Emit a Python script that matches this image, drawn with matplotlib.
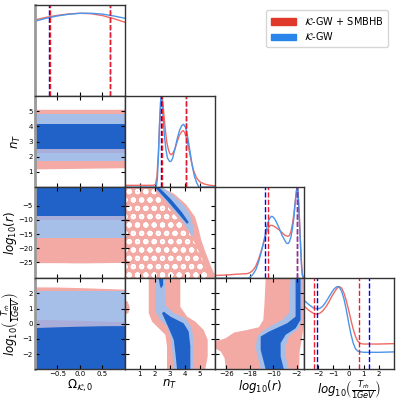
import numpy as np
import matplotlib.pyplot as plt
from matplotlib.patches import Patch

# ---- 1D marginals (peak normalised to 1) ----
omega_x = [-1.0, -0.75, -0.5, -0.25, 0.0, 0.25, 0.5, 0.75, 1.0]
omega_red = [0.920, 0.951, 0.975, 0.992, 1.0, 0.995, 0.972, 0.936, 0.892]
omega_blue = [0.904, 0.940, 0.968, 0.988, 1.0, 1.0, 0.990, 0.968, 0.940]

nT_red_x = [0.0, 1.0, 1.9, 2.05, 2.15, 2.25, 2.33, 2.4, 2.47, 2.53, 2.6, 2.7, 2.8, 2.9,
            3.0, 3.1, 3.2, 3.35, 3.5, 3.65, 3.8, 3.9, 4.0, 4.15, 4.3, 4.45, 4.6, 4.8,
            5.0, 5.3, 5.7, 6.0]
nT_red_y = [0.02, 0.02, 0.02, 0.03, 0.12, 0.4, 0.7, 0.9, 1.0, 0.95, 0.82, 0.64, 0.5, 0.42,
            0.37, 0.355, 0.37, 0.42, 0.5, 0.57, 0.61, 0.62, 0.6, 0.52, 0.4, 0.28, 0.18, 0.1,
            0.06, 0.035, 0.02, 0.015]
nT_blue_x = [0.0, 2.1, 2.17, 2.25, 2.32, 2.38, 2.43, 2.5, 2.57, 2.65, 2.75, 2.85, 3.0,
             3.1, 3.2, 3.35, 3.5, 3.65, 3.8, 3.93, 4.05, 4.2, 4.35, 4.5, 4.65, 4.8, 4.95, 6.0]
nT_blue_y = [0.0, 0.0, 0.08, 0.35, 0.7, 0.92, 1.0, 0.93, 0.75, 0.56, 0.41, 0.32, 0.28,
             0.285, 0.32, 0.42, 0.53, 0.62, 0.675, 0.69, 0.66, 0.55, 0.4, 0.24, 0.12, 0.05, 0.0, 0.0]

logr_red_x = [-30.0, -26.0, -22.0, -19.0, -18.0, -17.0, -16.0, -15.0, -14.0, -13.0, -12.5,
              -12.0, -11.5, -11.0, -10.5, -10.0, -9.0, -8.0, -7.0, -6.0, -5.0, -4.5, -4.0,
              -3.5, -3.0, -2.5, -2.1, -1.85, -1.6, -1.3, -1.0, -0.7, -0.4, -0.1, 0.3]
logr_red_y = [0.03, 0.035, 0.045, 0.05, 0.06, 0.085, 0.13, 0.21, 0.31, 0.42, 0.48,
              0.53, 0.56, 0.58, 0.58, 0.575, 0.555, 0.53, 0.5, 0.47, 0.46, 0.47, 0.51,
              0.59, 0.7, 0.85, 0.96, 1.0, 0.95, 0.8, 0.6, 0.38, 0.18, 0.05, 0.0]
logr_blue_x = [-30.0, -18.5, -18.0, -17.0, -16.0, -15.0, -14.0, -13.0, -12.5, -12.0, -11.5,
               -11.0, -10.5, -10.0, -9.5, -9.0, -8.0, -7.0, -6.0, -5.5, -5.0, -4.5, -4.0,
               -3.5, -3.0, -2.5, -2.1, -1.8, -1.55, -1.3, -1.0, -0.7, -0.4, -0.1, 0.3]
logr_blue_y = [0.0, 0.0, 0.01, 0.04, 0.09, 0.18, 0.3, 0.44, 0.52, 0.59, 0.64,
               0.67, 0.68, 0.67, 0.65, 0.62, 0.55, 0.47, 0.41, 0.385, 0.38, 0.4, 0.45,
               0.54, 0.66, 0.84, 0.96, 1.0, 0.94, 0.78, 0.55, 0.33, 0.14, 0.03, 0.0]

trh_red_x = [-2.9, -2.6, -2.3, -2.1, -1.9, -1.7, -1.5, -1.3, -1.1, -0.9, -0.75, -0.61,
             -0.45, -0.3, -0.15, 0.0, 0.15, 0.3, 0.45, 0.6, 0.8, 1.0, 2.0, 3.0]
trh_red_y = [0.76, 0.71, 0.675, 0.665, 0.675, 0.705, 0.75, 0.81, 0.88, 0.94, 0.98, 1.0,
             0.98, 0.92, 0.83, 0.72, 0.6, 0.49, 0.4, 0.34, 0.31, 0.305, 0.305, 0.31]
trh_blue_x = [-2.9, -2.6, -2.3, -2.1, -1.9, -1.7, -1.5, -1.3, -1.1, -0.95, -0.82, -0.72,
              -0.6, -0.45, -0.3, -0.15, 0.0, 0.15, 0.3, 0.45, 0.6, 0.8, 1.0, 2.0, 3.0]
trh_blue_y = [0.83, 0.78, 0.74, 0.73, 0.735, 0.76, 0.81, 0.87, 0.93, 0.97, 0.99, 1.0,
              0.99, 0.94, 0.85, 0.72, 0.57, 0.43, 0.32, 0.25, 0.22, 0.21, 0.205, 0.205, 0.21]

# 95% limits (dashed lines)
omega_lim_red = [-0.67, 0.66]
omega_lim_blue = [-0.69, 0.66]
nT_lim_red = [2.51, 4.07]
nT_lim_blue = [2.43, 4.06]
logr_lim_red = [-11.95, -2.0]
logr_lim_blue = [-12.9, -1.95]
trh_lim_red = [-2.25, 0.72]
trh_lim_blue = [-2.07, 1.35]

# ---- 2D contours: Omega column is flat, so bands (low, high) ----
band_x = [-1.0, -0.5, 0.0, 0.5, 1.0]
nT_red2 = ([1.20, 1.22, 1.24, 1.26, 1.28], [5.13, 5.13, 5.13, 5.13, 5.13])
nT_red1 = ([2.27, 2.27, 2.27, 2.27, 2.27], [4.05, 4.05, 4.05, 4.05, 4.05])
nT_blue2 = ([1.74, 1.74, 1.74, 1.74, 1.74], [4.80, 4.80, 4.80, 4.80, 4.80])
nT_blue1 = ([2.51, 2.51, 2.51, 2.51, 2.51], [4.13, 4.13, 4.13, 4.13, 4.13])

logr_red2 = ([-25.1, -25.1, -25.2, -25.1, -25.0], [1.6] * 5)
logr_red1 = ([-9.9, -9.9, -9.9, -9.9, -9.9], [1.6] * 5)
logr_blue2 = ([-16.4, -16.4, -16.4, -16.4, -16.4], [1.6] * 5)
logr_blue1 = ([-8.46, -8.46, -8.46, -8.46, -8.46], [1.6] * 5)

trh_red2 = ([-3.0] * 5, [2.43, 2.42, 2.38, 2.33, 2.28])
trh_red1 = ([-3.0] * 5, [0.30, 0.26, 0.22, 0.18, 0.14])
trh_blue2 = ([-3.0] * 5, [2.15, 2.15, 2.15, 2.15, 2.15])
trh_blue1 = ([-3.0] * 5, [-0.25, -0.2, -0.16, -0.13, -0.12])

# n_T - log10(r) contours (x = n_T, y = log10 r)
nr_red = [(0.0, 1.6), (2.4, 1.6), (3.3, -0.8), (4.1, -4.5), (4.7, -9.0), (4.95, -13.5),
          (5.1, -17.0), (5.4, -21.5), (5.75, -26.3), (6.0, -29.3), (6.0, -30.6), (0.0, -30.6)]
nr_speckle = [(0.0, 1.6), (1.85, 1.6), (2.4, -2.5), (3.1, -6.8), (3.8, -11.0), (4.35, -15.0),
              (4.8, -19.5), (5.15, -23.5), (5.45, -27.5), (5.6, -30.6), (0.0, -30.6)]
nr_blue2 = [(1.94, 1.6), (2.6, -2.5), (3.27, -6.7), (3.82, -10.2), (4.27, -13.8), (4.49, -16.0),
            (4.6, -14.5), (4.56, -12.0), (4.35, -8.0), (3.9, -4.5), (3.2, -1.2), (2.5, 1.6)]
nr_blue1 = [(2.0, 1.6), (2.82, -3.1), (3.6, -7.9), (4.16, -11.4), (4.27, -10.8),
            (3.82, -7.3), (3.05, -2.5), (2.27, 1.6)]

# n_T - T_rh contours (x = n_T, y = log10 T_rh)
nt_red = [(1.60, 3.0), (1.60, 0.69), (1.82, 0.14), (2.27, -0.3), (2.71, -0.73), (2.82, -1.5),
          (2.82, -3.0), (5.38, -3.0), (5.54, -2.15), (5.54, -1.06), (5.27, -0.41), (4.71, 0.14),
          (4.16, 0.47), (3.71, 1.12), (3.71, 3.0)]
nt_red_blob = [(0.0, 1.55), (0.2, 1.45), (0.32, 1.1), (0.25, 0.72), (0.0, 0.58)]
nt_blue2 = [(2.05, 3.0), (2.05, 0.8), (2.38, 0.25), (2.82, -0.19), (3.05, -0.84), (3.16, -1.72),
            (3.27, -3.0), (4.6, -3.0), (4.6, -1.28), (4.49, -0.3), (4.05, 0.36), (3.27, 0.69),
            (2.71, 1.23), (2.71, 3.0)]
nt_blue1 = [(2.49, 0.69), (2.94, -0.3), (3.27, -1.06), (3.38, -1.94), (3.49, -3.0), (4.38, -3.0),
            (4.38, -1.5), (4.27, -0.52), (3.93, 0.03), (3.05, 0.47), (2.6, 0.8)]
nt_blue1_tip = [(2.27, 3.0), (2.34, 2.54), (2.42, 2.33), (2.56, 2.54), (2.56, 3.0)]

# log10(r) - T_rh contours (x = log10 r, y = log10 T_rh)
rt_red = [(-12.6, 3.0), (-13.0, 1.34), (-13.4, 0.25), (-14.9, -0.23), (-18.9, -0.41),
          (-23.4, -0.58), (-26.2, -0.95), (-28.5, -1.1), (-30.0, -1.1), (-30.0, -1.6),
          (-27.9, -1.83), (-26.6, -2.26), (-26.2, -3.0), (-1.2, -3.0), (-1.0, -1.8),
          (-0.2, -0.9), (0.3, -0.2), (0.3, 3.0)]
rt_blue2 = [(-4.13, 3.0), (-4.7, 0.69), (-6.96, 0.25), (-13.2, -0.41), (-15.5, -0.84),
            (-16.0, -1.61), (-14.3, -3.0), (-4.7, -3.0), (-5.8, -2.15), (-5.8, -1.5),
            (-4.7, -0.84), (-1.3, -0.3), (-0.16, 0.25), (-0.1, 3.0)]
rt_blue1 = [(-2.4, 3.0), (-2.4, 0.47), (-5.3, 0.03), (-11.5, -0.52), (-14.3, -0.84),
            (-14.3, -1.72), (-12.6, -3.0), (-6.4, -3.0), (-7.5, -2.15), (-7.5, -1.28),
            (-5.8, -0.73), (-2.4, -0.3), (-0.73, 0.25), (-0.73, 3.0)]

# ---- styling ----
RED_LINE = '#ee6a64'
BLUE_LINE = '#4b95ea'
RED_FILL = '#f3aaa5'
RED_INNER = '#b08cc0'
BLUE_LIGHT = '#a6bfe8'
BLUE_DARK = '#2162c8'

plt.rcParams['hatch.color'] = 'white'
plt.rcParams['hatch.linewidth'] = 1.4

xlims = [(-1, 1), (0, 6), (-30, 0.6), (-2.9, 3.0)]
ylims = [None, (0, 6), (-30.6, 1.6), (-3, 3)]
ticks = [[-0.5, 0.0, 0.5], [1, 2, 3, 4, 5], [-26, -18, -10, -2], [-2, -1, 0, 1, 2]]
yticks = [None, [1, 2, 3, 4, 5], [-25, -20, -15, -10, -5], [-2, -1, 0, 1, 2]]
labels = [r'$\Omega_{\mathcal{K},0}$', r'$n_T$', r'$log_{10}(r)$',
          r'$log_{10}\left(\frac{T_{rh}}{1GeV}\right)$']
ylabel_x = [None, -0.13, -0.18, -0.14]

fig = plt.figure(figsize=(3.99, 4.01), dpi=100)
x0, w = 35 / 399, 89.8 / 399
y0, h = 5 / 401, 91.07 / 401

axes = {}
for i in range(4):
    for j in range(i + 1):
        ax = fig.add_axes([x0 + j * w, 1 - y0 - (i + 1) * h, w, h])
        ax.set_xlim(*xlims[j])
        ax.set_xticks(ticks[j])
        if i == j:
            ax.set_yticks([])
            ax.tick_params(axis='x', direction='in', length=3, labelsize=5, pad=1.5)
        else:
            ax.set_ylim(*ylims[i])
            ax.set_yticks(yticks[i])
            ax.tick_params(direction='in', length=3, labelsize=5, pad=1.5,
                           top=True, right=True)
        if i < 3:
            ax.tick_params(labelbottom=False)
        else:
            ax.set_xlabel(labels[j], fontsize=8.5)
            ax.xaxis.set_label_coords(0.5, -0.095)
        if j > 0 or i == 0:
            ax.tick_params(labelleft=False)
        else:
            ax.set_ylabel(labels[i], fontsize=8.5)
            ax.yaxis.set_label_coords(ylabel_x[i], 0.5)
        for s in ax.spines.values():
            s.set_linewidth(1.0)
            s.set_color('#333333')
        if j == 0:
            ax.spines['left'].set_color('#999999')
            ax.spines['left'].set_linewidth(2)
        axes[(i, j)] = ax


def diag(ax, rx, ry, bx, by, lred, lblue, top):
    ax.plot(rx, ry, color=RED_LINE, lw=1)
    ax.plot(bx, by, color=BLUE_LINE, lw=1)
    for v in lblue:
        ax.axvline(v, color='blue', ls='--', lw=1)
    for v in lred:
        ax.axvline(v, color='#e8202a', ls='--', lw=1)
    ax.set_ylim(0, top)


diag(axes[(0, 0)], omega_x, omega_red, omega_x, omega_blue, omega_lim_red, omega_lim_blue, 1.1)
diag(axes[(1, 1)], nT_red_x, nT_red_y, nT_blue_x, nT_blue_y, nT_lim_red, nT_lim_blue, 1.0)
diag(axes[(2, 2)], logr_red_x, logr_red_y, logr_blue_x, logr_blue_y, logr_lim_red, logr_lim_blue, 1.0)
diag(axes[(3, 3)], trh_red_x, trh_red_y, trh_blue_x, trh_blue_y, trh_lim_red, trh_lim_blue, 1.1)


def bands(ax, r2, r1, b2, b1):
    ax.fill_between(band_x, *r2, color=RED_FILL, lw=0)
    ax.fill_between(band_x, *b2, color=BLUE_LIGHT, lw=0)
    ax.fill_between(band_x, *r1, color=RED_INNER, alpha=0.35, lw=0)
    ax.fill_between(band_x, *b1, color=BLUE_DARK, lw=0)


bands(axes[(1, 0)], nT_red2, nT_red1, nT_blue2, nT_blue1)
bands(axes[(2, 0)], logr_red2, logr_red1, logr_blue2, logr_blue1)
bands(axes[(3, 0)], trh_red2, trh_red1, trh_blue2, trh_blue1)


def poly(ax, pts, **kw):
    xs, ys = zip(*pts)
    ax.fill(xs, ys, lw=0, **kw)


ax = axes[(2, 1)]
poly(ax, nr_red, color=RED_FILL)
poly(ax, nr_speckle, facecolor='none', edgecolor='white', hatch='oo')
poly(ax, nr_blue2, color=BLUE_LIGHT)
poly(ax, nr_blue1, color=BLUE_DARK)

ax = axes[(3, 1)]
poly(ax, nt_red, color=RED_FILL)
poly(ax, nt_red_blob, color=RED_FILL)
poly(ax, nt_blue2, color=BLUE_LIGHT)
poly(ax, nt_blue1, color=BLUE_DARK)
poly(ax, nt_blue1_tip, color=BLUE_DARK)

ax = axes[(3, 2)]
poly(ax, rt_red, color=RED_FILL)
poly(ax, rt_blue2, color=BLUE_LIGHT)
poly(ax, rt_blue1, color=BLUE_DARK)

handles = [Patch(color='#e0392b', label=r'$\mathcal{K}$-GW + SMBHB'),
           Patch(color='#2a85ea', label=r'$\mathcal{K}$-GW')]
fig.legend(handles=handles, loc='upper right', bbox_to_anchor=(0.985, 0.988),
           fontsize=7, handlelength=2.6, borderpad=0.5, labelspacing=0.4)

fig.savefig('out.png', dpi=100)
